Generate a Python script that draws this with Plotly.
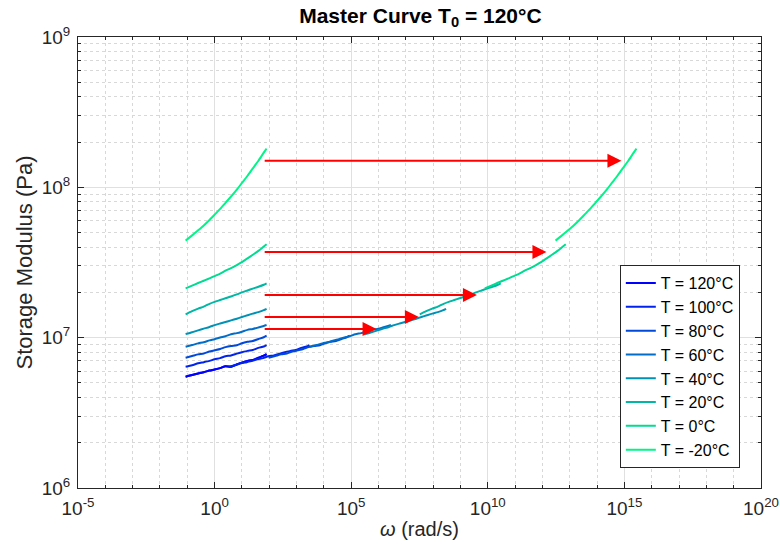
import numpy as np
import plotly.graph_objects as go

# ---------------- data ----------------
temps = [120, 100, 80, 60, 40, 20, 0, -20]
omega = [0.087, 0.15, 0.25, 0.4, 0.65, 1.0, 1.6, 2.5, 4.0, 6.5, 10, 16, 25, 40, 63, 80]

G_120 = [5.50e6, 5.65e6, 5.78e6, 5.89e6, 6.04e6, 6.14e6, 6.27e6, 6.46e6, 6.40e6, 6.64e6, 6.82e6, 7.00e6, 7.11e6, 7.35e6, 7.59e6, 7.78e6]
G_100 = [6.41e6, 6.55e6, 6.75e6, 6.87e6, 7.01e6, 7.18e6, 7.31e6, 7.53e6, 7.62e6, 7.83e6, 8.00e6, 8.17e6, 8.28e6, 8.55e6, 8.73e6, 8.93e6]
G_80 = [7.36e6, 7.55e6, 7.74e6, 7.85e6, 8.09e6, 8.24e6, 8.41e6, 8.65e6, 8.81e6, 8.91e6, 9.18e6, 9.38e6, 9.51e6, 9.79e6, 10.07e6, 10.30e6]
G_60 = [8.71e6, 8.93e6, 9.16e6, 9.33e6, 9.59e6, 9.77e6, 10.02e6, 10.23e6, 10.54e6, 10.72e6, 10.96e6, 11.27e6, 11.43e6, 11.69e6, 11.97e6, 12.13e6]
G_40 = [1.057e7, 1.086e7, 1.119e7, 1.148e7, 1.178e7, 1.211e7, 1.242e7, 1.271e7, 1.303e7, 1.337e7, 1.371e7, 1.409e7, 1.445e7, 1.479e7, 1.524e7, 1.556e7]
G_20 = [1.43e7, 1.50e7, 1.56e7, 1.61e7, 1.68e7, 1.73e7, 1.78e7, 1.83e7, 1.88e7, 1.94e7, 2.00e7, 2.06e7, 2.12e7, 2.18e7, 2.25e7, 2.30e7]
G_0 = [2.13e7, 2.22e7, 2.31e7, 2.39e7, 2.48e7, 2.57e7, 2.67e7, 2.79e7, 2.90e7, 3.04e7, 3.18e7, 3.37e7, 3.56e7, 3.78e7, 4.04e7, 4.18e7]
G_m20 = [4.42e7, 4.79e7, 5.18e7, 5.58e7, 6.07e7, 6.58e7, 7.19e7, 7.89e7, 8.69e7, 9.66e7, 10.69e7, 11.94e7, 13.37e7, 15.03e7, 17.02e7, 18.11e7]
G_all = [G_120, G_100, G_80, G_60, G_40, G_20, G_0, G_m20]

# horizontal shift factors log10(aT), reference T0 = 120 C
log_aT = [0.0, 1.57, 3.04, 4.55, 6.57, 8.57, 10.95, 13.54]

colors = ["#0000ff", "#0024ed", "#0049db", "#006dc9", "#0092b6", "#00b6a4", "#00db92", "#00f588"]

# arrows (shift illustration)
arrow_T = [-20, 0, 20, 40, 60]
arrow_G = [1.50e8, 3.71e7, 1.92e7, 1.37e7, 1.14e7]
arrow_start_omega = 60
arrow_tip_omega = [7.8e14, 1.4e12, 4.0e9, 3.0e7, 8.5e5]

x_tick_exp = [-5, 0, 5, 10, 15, 20]
y_tick_exp = [6, 7, 8, 9]

# ---------------- figure ----------------
fig = go.Figure()
for T, G, c in zip(temps, G_all, colors):
    fig.add_trace(go.Scatter(x=omega, y=G, mode="lines", name=f"T = {T}°C",
                             line=dict(color=c, width=2, shape="spline", smoothing=0.6)))
for T, G, c, a in zip(temps, G_all, colors, log_aT):
    fig.add_trace(go.Scatter(x=[w * 10 ** a for w in omega], y=G, mode="lines",
                             showlegend=False, line=dict(color=c, width=2, shape="spline", smoothing=0.6)))

for g, tip in zip(arrow_G, arrow_tip_omega):
    fig.add_annotation(x=np.log10(tip), y=np.log10(g), ax=np.log10(arrow_start_omega), ay=np.log10(g),
                       xref="x", yref="y", axref="x", ayref="y", text="", showarrow=True,
                       arrowhead=2, arrowsize=1.4, arrowwidth=2, arrowcolor="#ff0000")

FONT = "Liberation Sans, Arial, sans-serif"
axis_font = dict(family=FONT, size=19, color="#262626")
common = dict(type="log", showline=True, linecolor="#262626", linewidth=1, mirror="ticks",
              ticks="inside", ticklen=6, tickcolor="#262626", tickfont=axis_font,
              showgrid=True, gridcolor="#e0e0e0", gridwidth=1, zeroline=False,
              ticklabelstandoff=3, ticklabeloverflow="allow", automargin=False)

fig.update_xaxes(**common, range=[-5, 20],
                 tickvals=[10.0 ** e for e in x_tick_exp],
                 ticktext=[f"10<sup>{e}</sup>" for e in x_tick_exp],
                 title=dict(text="<i>ω</i> (rad/s)", font=dict(family=FONT, size=20, color="#262626"), standoff=4),
                 minor=dict(dtick=1, ticks="inside", ticklen=3, tickcolor="#262626",
                            showgrid=True, gridcolor="#d8d8d8", griddash="dot"))
fig.update_yaxes(**common, range=[6, 9],
                 tickvals=[10.0 ** e for e in y_tick_exp],
                 ticktext=[f"10<sup>{e}</sup>" for e in y_tick_exp],
                 title=dict(text="Storage Modulus (Pa)", font=dict(family=FONT, size=22, color="#262626"), standoff=2),
                 minor=dict(dtick="D1", ticks="inside", ticklen=3, tickcolor="#262626",
                            showgrid=True, gridcolor="#d8d8d8", griddash="dot"))

fig.update_layout(
    width=780, height=554,
    margin=dict(l=78, r=19, t=37, b=66, autoexpand=False),
    paper_bgcolor="white", plot_bgcolor="white",
    title=dict(text="<b>Master Curve T<sub>0</sub> = 120°C</b>", x=0.539, xanchor="center",
               y=0.985, yanchor="top",
               font=dict(family=FONT, size=21, color="black")),
    legend=dict(x=0.969, xanchor="right", y=0.044, yanchor="bottom",
                bgcolor="white", bordercolor="#262626", borderwidth=1,
                font=dict(family=FONT, size=16, color="black"),
                tracegroupgap=0, itemwidth=30),
    showlegend=True,
)

fig.write_html("out.html")
